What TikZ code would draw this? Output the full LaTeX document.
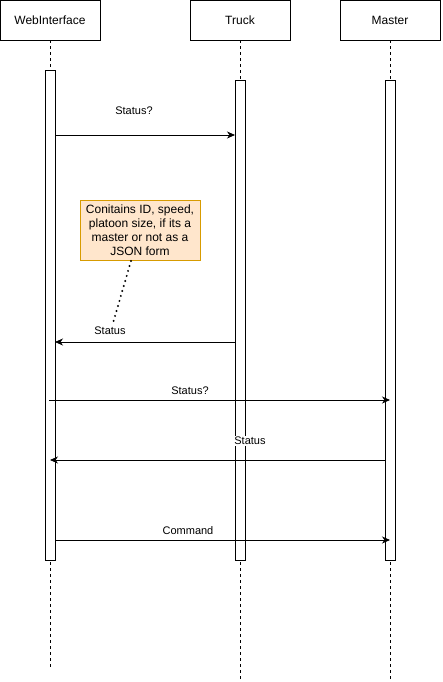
\documentclass[tikz,border=0pt]{standalone}
\usepackage{fontspec}
\setmainfont{Liberation Sans}
\usetikzlibrary{arrows.meta}
\definecolor{notefill}{HTML}{FFE6CC}
\definecolor{noteline}{HTML}{D79B00}
\begin{document}
\begin{tikzpicture}[x=1pt,y=-1pt,
  head/.style={draw,line width=0.8pt,minimum width=100pt,minimum height=40pt,inner sep=0pt,font=\fontsize{12}{14}\selectfont},
  bar/.style={draw,fill=white,line width=0.8pt,minimum width=10pt,inner sep=0pt},
  life/.style={line width=0.7pt,dash pattern=on 3pt off 3pt},
  msg/.style={line width=0.8pt,-{Stealth[length=8pt,width=7pt,inset=2.5pt]}},
  lbl/.style={font=\fontsize{11}{13}\selectfont,inner sep=1pt},
  note/.style={draw=noteline,fill=notefill,line width=0.8pt,minimum width=120pt,minimum height=60pt,inner sep=1pt,align=center,font=\fontsize{12}{14}\selectfont}]
\useasboundingbox (0,0) rectangle (442,682);
% heads
\node[head] (wi) at (50,20) {WebInterface};
\node[head] (tr) at (240,20) {Truck};
\node[head] (ma) at (390,20) {Master};
% lifeline ends
\coordinate (wiend) at (50,667);
\coordinate (trend) at (240,679);
\coordinate (maend) at (390,679);
\draw[life] (wi.south) -- (wiend);
\draw[life] (tr.south) -- (trend);
\draw[life] (ma.south) -- (maend);
% activation bars
\node[bar,minimum height=490pt] (wib) at (50,315) {};
\node[bar,minimum height=480pt] (trb) at (240,320) {};
\node[bar,minimum height=480pt] (mab) at (390,320) {};
% message endpoints
\coordinate (m1a) at (55,135);  \coordinate (m1b) at (235,135);
\coordinate (m2a) at (235,342); \coordinate (m2b) at (55,342);
\coordinate (m3a) at (49,400);  \coordinate (m3b) at (390,400);
\coordinate (m4a) at (385,460); \coordinate (m4b) at (50,460);
\coordinate (m5a) at (55,540);  \coordinate (m5b) at (390,540);
\draw[msg] (m1a) -- (m1b);
\draw[msg] (m2a) -- (m2b);
\draw[msg] (m3a) -- (m3b);
\draw[msg] (m4a) -- (m4b);
\draw[msg] (m5a) -- (m5b);
% labels
\node[lbl] (l1) at (134,111) {Status?};
\node[lbl] (l2) at (110,331) {Status};
\node[lbl] (l3) at (190,391) {Status?};
\node[lbl,fill=white] (l4) at (250,441) {Status};
\node[lbl] (l5) at (188,531) {Command};
% note
\node[note] (nt) at (140,230) {Conitains ID, speed,\\platoon size, if its a\\master or not as a\\JSON form};
\coordinate (ntend) at (113,323);
\draw[line width=2.2pt,dash pattern=on 0pt off 5.2pt,line cap=round] (131,261) -- (ntend);
\end{tikzpicture}
\end{document}
